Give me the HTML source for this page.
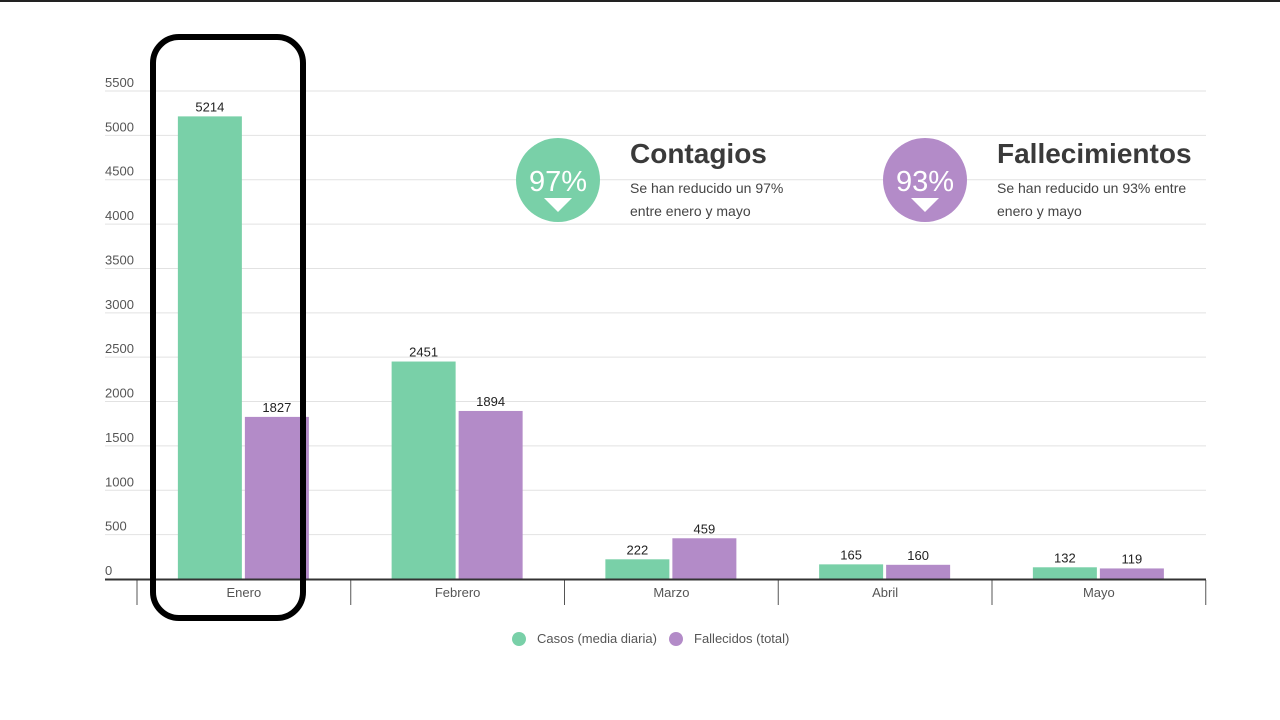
<!DOCTYPE html>
<html><head><meta charset="utf-8"><style>
body{margin:0;background:#fff;font-family:"Liberation Sans",sans-serif}
svg{display:block}
</style></head><body>
<svg id="c" width="1280" height="720">
<rect x="0" y="0" width="1280" height="2" fill="#222"/>
<g id="grid"></g><g id="bars"></g><g id="axis"></g>
<g>
<circle cx="558" cy="180" r="42" fill="#79d0a8"/>
<text x="558" y="191" text-anchor="middle" font-size="29" fill="#fff">97%</text>
<path d="M544 198 L572 198 L558 212 Z" fill="#fff"/>
<text x="630" y="163" font-size="28" font-weight="bold" fill="#3a3a3a">Contagios</text>
<text x="630" y="193" font-size="14" fill="#444">Se han reducido un 97%</text>
<text x="630" y="216" font-size="14" fill="#444">entre enero y mayo</text>
</g>
<g>
<circle cx="925" cy="180" r="42" fill="#b38bc8"/>
<text x="925" y="191" text-anchor="middle" font-size="29" fill="#fff">93%</text>
<path d="M911 198 L939 198 L925 212 Z" fill="#fff"/>
<text x="997" y="163" font-size="28" font-weight="bold" fill="#3a3a3a">Fallecimientos</text>
<text x="997" y="193" font-size="14" fill="#444">Se han reducido un 93% entre</text>
<text x="997" y="216" font-size="14" fill="#444">enero y mayo</text>
</g>
<g>
<circle cx="519" cy="639" r="7" fill="#79d0a8"/>
<text x="537" y="643" font-size="13" fill="#555">Casos (media diaria)</text>
<circle cx="676" cy="639" r="7" fill="#b38bc8"/>
<text x="694" y="643" font-size="13" fill="#555">Fallecidos (total)</text>
</g>
<rect x="153" y="37" width="150" height="581" rx="26" fill="none" stroke="#000" stroke-width="6"/>
</svg>
<script>
const categories=["Enero","Febrero","Marzo","Abril","Mayo"];
const casos=[5214,2451,222,165,132];
const fallecidos=[1827,1894,459,160,119];
const yTicks=[0,500,1000,1500,2000,2500,3000,3500,4000,4500,5000,5500];
const NS="http://www.w3.org/2000/svg";
const x0=137,bandW=213.75,y0=579,yMax=5500,yTop=91;
const y=v=>y0-(v/yMax)*(y0-yTop);
function mk(p,tag,a,txt){const e=document.createElementNS(NS,tag);for(const k in a)e.setAttribute(k,a[k]);if(txt!=null)e.textContent=txt;p.appendChild(e);return e;}
const G=document.getElementById('grid'),B=document.getElementById('bars'),A=document.getElementById('axis');
yTicks.forEach(t=>{
 if(t>0){const l=mk(G,'line',{x1:105,x2:1206,y1:y(t),y2:y(t),stroke:'#e2e2e2','stroke-width':1});
 
 }
 const tx=mk(G,'text',{x:105,y:y(t)-4,'font-size':13,fill:'#555'},t);
 
 
});
categories.forEach((c,i)=>{
 const cx=x0+bandW*(i+0.5);
 const h1=y0-y(casos[i]),h2=y0-y(fallecidos[i]);
 const r1=mk(B,'rect',{x:cx-66,y:y(casos[i]),width:64,height:h1,fill:'#79d0a8'});
 
 
 const r2=mk(B,'rect',{x:cx+1,y:y(fallecidos[i]),width:64,height:h2,fill:'#b38bc8'});
 
 
 const t1=mk(B,'text',{x:cx-34,y:y(casos[i])-5,'font-size':13,fill:'#222','text-anchor':'middle'},casos[i]);
 
 
 const t2=mk(B,'text',{x:cx+33,y:y(fallecidos[i])-5,'font-size':13,fill:'#222','text-anchor':'middle'},fallecidos[i]);
 
 
 const xl=mk(A,'text',{x:cx,y:597,'font-size':13,fill:'#555','text-anchor':'middle'},c);
 
 
});
for(let i=0;i<=categories.length;i++){
 const sx=x0+bandW*i;
 const s=mk(A,'line',{x1:sx,x2:sx,y1:580,y2:605,stroke:'#555','stroke-width':1});
 
 
}
const ax=mk(A,'line',{x1:105,x2:1206,y1:579.5,y2:579.5,stroke:'#333','stroke-width':2});


</script>
</body></html>
